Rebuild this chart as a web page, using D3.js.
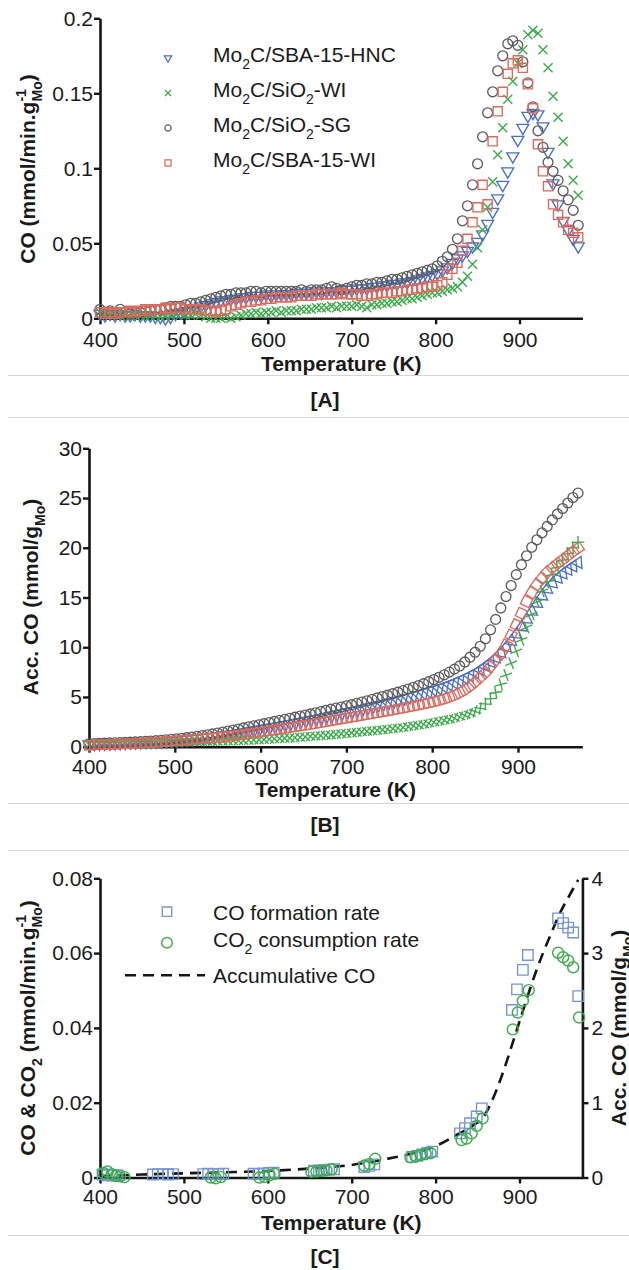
<!DOCTYPE html>
<html><head><meta charset="utf-8">
<script src="https://cdn.jsdelivr.net/npm/d3@7/dist/d3.min.js"></script>
<style>
html,body{margin:0;padding:0;background:#fff;}
svg text{font-family:"Liberation Sans",Arial,Helvetica,sans-serif;}
</style></head>
<body>
<svg id="chart" width="629" height="1270"></svg>
<script>
// ---------- DATA ----------
const temps = [400,406,412,418,424,430,436,442,448,454,
460,466,472,478,484,490,496,502,508,514,
520,526,532,538,544,550,556,562,568,574,
580,586,592,598,604,610,616,622,628,634,
640,646,652,658,664,670,676,682,688,694,
700,706,712,718,724,730,736,742,748,754,
760,766,772,778,784,790,796,802,808,814,
820,826,832,838,844,850,856,862,868,874,
880,886,892,898,904,910,916,922,928,934,
940,946,952,958,964,970];

const seriesNames = [
  [{t:"Mo"},{t:"2",sub:true},{t:"C/SBA-15-HNC"}],
  [{t:"Mo"},{t:"2",sub:true},{t:"C/SiO"},{t:"2",sub:true},{t:"-WI"}],
  [{t:"Mo"},{t:"2",sub:true},{t:"C/SiO"},{t:"2",sub:true},{t:"-SG"}],
  [{t:"Mo"},{t:"2",sub:true},{t:"C/SBA-15-WI"}]
];

// [A] CO formation rate (mmol/min.gMo)
const rateHNC = [0.003,0.002,0.003,0.002,0.003,0.002,0.002,0.003,0.002,0.002,
0.002,0.001,0.001,0.000,0.001,0.003,0.004,0.005,0.006,0.007,
0.008,0.009,0.010,0.011,0.012,0.012,0.013,0.013,0.014,0.014,
0.015,0.015,0.015,0.016,0.015,0.016,0.016,0.016,0.016,0.017,
0.017,0.017,0.017,0.018,0.017,0.018,0.018,0.018,0.019,0.019,
0.019,0.020,0.020,0.020,0.021,0.021,0.022,0.022,0.023,0.023,
0.024,0.024,0.025,0.026,0.027,0.028,0.029,0.030,0.032,0.034,
0.037,0.040,0.042,0.045,0.048,0.051,0.056,0.063,0.071,0.080,
0.089,0.098,0.108,0.119,0.127,0.135,0.137,0.136,0.128,0.111,
0.090,0.076,0.065,0.059,0.053,0.048];
const rateSiO2WI = [0.004,0.003,0.002,0.003,0.002,0.002,0.001,0.002,0.002,0.001,
0.002,0.002,0.001,0.002,0.002,0.003,0.003,0.002,0.002,0.003,
0.002,0.001,0.000,0.000,0.000,0.001,0.000,0.001,0.002,0.003,
0.003,0.004,0.003,0.004,0.004,0.005,0.004,0.005,0.005,0.005,
0.006,0.006,0.006,0.007,0.007,0.007,0.008,0.007,0.008,0.008,
0.008,0.009,0.008,0.007,0.009,0.009,0.010,0.010,0.011,0.011,
0.012,0.013,0.013,0.014,0.015,0.016,0.017,0.017,0.018,0.019,
0.020,0.021,0.024,0.028,0.036,0.047,0.059,0.074,0.091,0.109,
0.127,0.146,0.158,0.170,0.179,0.189,0.192,0.190,0.179,0.167,
0.148,0.134,0.118,0.103,0.092,0.082];
const rateSiO2SG = [0.006,0.004,0.005,0.004,0.006,0.004,0.003,0.004,0.004,0.005,
0.005,0.006,0.006,0.007,0.008,0.008,0.008,0.009,0.010,0.010,
0.011,0.012,0.013,0.014,0.015,0.016,0.016,0.017,0.017,0.017,
0.018,0.018,0.017,0.018,0.018,0.018,0.018,0.018,0.018,0.018,
0.019,0.018,0.019,0.019,0.019,0.020,0.021,0.020,0.019,0.020,
0.021,0.022,0.022,0.023,0.023,0.024,0.024,0.025,0.026,0.026,
0.027,0.028,0.029,0.030,0.031,0.032,0.033,0.035,0.038,0.041,
0.046,0.053,0.065,0.075,0.089,0.103,0.121,0.137,0.151,0.165,
0.175,0.183,0.185,0.182,0.171,0.157,0.141,0.125,0.114,0.104,
0.098,0.092,0.085,0.079,0.072,0.062];
const rateSBAWI = [0.004,0.003,0.004,0.003,0.004,0.004,0.005,0.004,0.005,0.006,
0.005,0.006,0.006,0.007,0.006,0.007,0.007,0.006,0.006,0.006,
0.006,0.005,0.005,0.004,0.005,0.006,0.008,0.009,0.010,0.011,
0.011,0.012,0.012,0.013,0.013,0.014,0.014,0.014,0.014,0.015,
0.015,0.015,0.015,0.016,0.016,0.016,0.016,0.016,0.017,0.016,
0.016,0.016,0.015,0.015,0.016,0.016,0.017,0.017,0.017,0.018,
0.018,0.019,0.019,0.020,0.020,0.021,0.021,0.022,0.024,0.029,
0.033,0.037,0.045,0.053,0.064,0.074,0.089,0.076,0.118,0.138,
0.151,0.163,0.170,0.172,0.167,0.156,0.140,0.116,0.098,0.088,
0.076,0.069,0.064,0.059,0.057,0.054];

// [B] accumulated CO (mmol/gMo)
const accHNC = [0.25,0.27,0.29,0.31,0.33,0.35,0.37,0.39,0.41,0.43,
0.45,0.47,0.49,0.51,0.53,0.56,0.59,0.63,0.67,0.72,
0.77,0.82,0.88,0.94,1.01,1.08,1.15,1.23,1.31,1.39,
1.48,1.57,1.66,1.75,1.84,1.93,2.02,2.12,2.22,2.32,
2.42,2.52,2.62,2.72,2.82,2.93,3.04,3.15,3.26,3.37,
3.48,3.59,3.71,3.83,3.95,4.07,4.19,4.31,4.44,4.57,
4.70,4.83,4.97,5.11,5.25,5.40,5.55,5.71,5.87,6.05,
6.24,6.44,6.66,6.90,7.15,7.43,7.74,8.10,8.50,8.95,
9.45,10.00,10.62,11.30,12.03,12.80,13.60,14.40,15.15,15.85,
16.45,16.95,17.40,17.80,18.15,18.50];
const accSiO2WI = [0.20,0.21,0.22,0.23,0.24,0.25,0.26,0.27,0.28,0.29,
0.30,0.32,0.34,0.36,0.38,0.40,0.42,0.44,0.46,0.48,
0.50,0.52,0.53,0.54,0.55,0.56,0.57,0.58,0.60,0.62,
0.64,0.66,0.68,0.70,0.73,0.76,0.79,0.82,0.85,0.88,
0.91,0.95,0.99,1.03,1.07,1.11,1.15,1.19,1.24,1.29,
1.34,1.39,1.44,1.49,1.54,1.59,1.64,1.69,1.75,1.81,
1.87,1.94,2.01,2.09,2.17,2.26,2.35,2.45,2.55,2.65,
2.75,2.87,3.00,3.15,3.32,3.55,3.86,4.30,4.82,5.45,
6.25,7.20,8.40,9.60,10.75,12.00,13.30,14.55,15.65,16.55,
17.30,18.05,18.75,19.40,20.00,20.55];
const accSiO2SG = [0.30,0.32,0.34,0.36,0.38,0.40,0.42,0.44,0.46,0.48,
0.51,0.54,0.57,0.61,0.65,0.69,0.74,0.79,0.85,0.91,
0.97,1.04,1.12,1.20,1.29,1.38,1.48,1.58,1.68,1.78,
1.89,2.00,2.10,2.21,2.32,2.43,2.54,2.65,2.75,2.86,
2.97,3.08,3.19,3.30,3.41,3.53,3.65,3.77,3.88,3.99,
4.11,4.23,4.36,4.49,4.62,4.76,4.90,5.04,5.18,5.33,
5.48,5.64,5.80,5.97,6.15,6.34,6.54,6.75,6.98,7.23,
7.50,7.80,8.12,8.52,9.00,9.50,10.10,10.85,11.75,12.80,
13.95,15.10,16.20,17.30,18.30,19.20,20.05,20.80,21.50,22.15,
22.80,23.40,23.95,24.50,25.05,25.50];
const accSBAWI = [0.15,0.17,0.19,0.21,0.23,0.25,0.27,0.29,0.31,0.33,
0.36,0.39,0.42,0.45,0.48,0.52,0.56,0.60,0.64,0.68,
0.72,0.76,0.80,0.84,0.88,0.93,0.98,1.04,1.10,1.16,
1.23,1.30,1.37,1.44,1.52,1.60,1.68,1.76,1.84,1.92,
2.00,2.08,2.16,2.24,2.33,2.42,2.51,2.60,2.69,2.78,
2.87,2.96,3.05,3.14,3.23,3.32,3.41,3.50,3.59,3.68,
3.78,3.88,3.98,4.08,4.18,4.29,4.40,4.52,4.65,4.80,
4.98,5.18,5.42,5.72,6.08,6.50,6.98,7.45,8.05,8.75,
9.35,10.20,11.20,12.25,13.40,14.60,15.50,16.30,16.95,17.55,
18.00,18.40,18.80,19.20,19.60,19.95];

// [C]
const cTempsCO = [403,409,415,421,463,469,475,481,487,523,529,535,541,547,583,589,595,601,607,655,661,667,673,679,715,721,727,772,778,784,790,796,829,835,841,849,855,891,897,904,910,946,952,958,964,970];
const cRateCO = [0.0008,0.0006,0.0005,0.0006,0.0008,0.0009,0.0009,0.0008,0.0009,0.0009,0.0010,0.0009,0.0009,0.0010,0.0010,0.0009,0.0011,0.0012,0.0013,0.0018,0.0019,0.0020,0.0021,0.0022,0.0028,0.0031,0.0035,0.0055,0.0058,0.0062,0.0066,0.0069,0.0118,0.0132,0.0145,0.0163,0.0185,0.0448,0.0503,0.0555,0.0595,0.0693,0.0680,0.0668,0.0655,0.0485];
const cTempsCO2 = [404,409,414,419,424,429,532,538,544,590,596,602,608,652,658,664,670,676,715,721,728,770,776,782,788,794,831,837,843,849,856,892,898,904,911,946,952,958,964,971];
const cRateCO2 = [0.0012,0.0016,0.0009,0.0004,0.0003,0.0001,0.0000,-0.0002,0.0001,0.0000,0.0002,0.0006,0.0010,0.0015,0.0016,0.0017,0.0019,0.0022,0.0032,0.0036,0.0050,0.0054,0.0057,0.0060,0.0063,0.0065,0.0100,0.0104,0.0118,0.0138,0.0158,0.0396,0.0441,0.0472,0.0501,0.0601,0.0589,0.0580,0.0562,0.0428];
const cTempsAcc = [400,450,500,550,600,650,700,745,775,800,825,845,857,867,877,885,893,901,909,918,928,938,948,960,970];
const cAcc = [0.02,0.04,0.056,0.07,0.087,0.12,0.168,0.256,0.33,0.42,0.57,0.70,0.81,1.02,1.30,1.56,1.84,2.12,2.40,2.70,3.00,3.27,3.53,3.78,3.98];

const xTicks = [400,500,600,700,800,900];
const yTicksA = [0,0.05,0.1,0.15,0.2];
const yTicksB = [0,5,10,15,20,25,30];
const yTicksC = [0,0.02,0.04,0.06,0.08];
const yTicksC2 = [0,1,2,3,4];

// ---------- DRAWING ----------
const FONT = '"Liberation Sans", Arial, Helvetica, sans-serif';
const INK = '#151515';
const COL = {hnc:'#4a6fc6', wi:'#3aaa48', sg:'#5c5c5c', sba:'#db6a5d', co:'#7594d4', co2:'#3cad4a'};
const svg = d3.select('#chart');

function styleAxis(a){
  a.attr('font-family',FONT).attr('font-size',21);
  a.select('.domain').attr('stroke',INK).attr('stroke-width',2.6);
  a.selectAll('.tick line').attr('stroke',INK).attr('stroke-width',2.4);
  a.selectAll('.tick text').attr('fill','#1a1a1a').attr('font-size',21);
}
function addText(parent, x, y, parts, o={}){
  const t = parent.append('text').attr('x',x).attr('y',y)
    .attr('font-family',FONT).attr('font-size',o.size||21)
    .attr('font-weight',o.weight||'normal').attr('fill','#1a1a1a')
    .attr('text-anchor',o.anchor||'start');
  if (o.transform) t.attr('transform',o.transform);
  let shift = 0;
  parts.forEach(p=>{
    const s = t.append('tspan').text(p.t);
    let dy = 0;
    if (p.sub){ s.attr('font-size',14); dy = 7 - shift; shift = 7; }
    else if (p.sup){ s.attr('font-size',14); dy = -9 - shift; shift = -9; }
    else { dy = -shift; shift = 0; }
    if (dy) s.attr('dy',dy);
    if (p.dx) s.attr('dx',p.dx);
  });
  return t;
}

const SH = {
  tri: d3.symbol(d3.symbolTriangle, 62)(),
  sq: d3.symbol(d3.symbolSquare, 84)(),
  circ: d3.symbol(d3.symbolCircle, 76)(),
  cross: 'M-4.5,-4.5L4.5,4.5M-4.5,4.5L4.5,-4.5'
};
const markerDefs = [
  {shape:'tri', rot:180, color:COL.hnc},
  {shape:'cross', rot:0, color:COL.wi},
  {shape:'circ', rot:0, color:COL.sg},
  {shape:'sq', rot:0, color:COL.sba}
];

function drawPoints(g, xs, ys, tArr, vArr, d, color, rotFn, sw){
  const pts = tArr.map((t,i)=>({t, v:vArr[i], i}));
  g.append('g').selectAll('path').data(pts).join('path')
    .attr('d', d)
    .attr('transform', p=>`translate(${xs(p.t).toFixed(2)},${ys(p.v).toFixed(2)}) rotate(${rotFn(p).toFixed(1)})`)
    .attr('fill','none').attr('stroke',color).attr('stroke-width',sw||1.35);
}

// ===== Panel A =====
const xA = d3.scaleLinear().domain([400,975]).range([100, 100+575*0.839]);
const yA = d3.scaleLinear().domain([0,0.2]).range([318.3,18.3]);
{
  const g = svg.append('g');
  const ax = g.append('g').attr('transform',`translate(0,${yA(0)})`)
    .call(d3.axisBottom(xA).tickValues(xTicks).tickSize(6).tickSizeOuter(0).tickPadding(8).tickFormat(d3.format('d')));
  styleAxis(ax);
  const ay = g.append('g').attr('transform',`translate(${xA(400)},0)`)
    .call(d3.axisLeft(yA).tickValues(yTicksA).tickSize(6).tickSizeOuter(0).tickPadding(1).tickFormat(d=>String(d)));
  styleAxis(ay);
  const rates = [rateHNC, rateSiO2WI, rateSiO2SG, rateSBAWI];
  rates.forEach((r,k)=>{
    const m = markerDefs[k];
    drawPoints(g, xA, yA, temps, r, SH[m.shape], m.color, ()=>m.rot);
  });
  addText(g, 0, 0, [{t:'Temperature (K)'}], {weight:'bold', anchor:'middle', transform:`translate(${(xA(400)+xA(975))/2},371)`});
  addText(g, 0, 0, [{t:'CO (mmol/min.g'},{t:'-1',sup:true},{t:'Mo',sub:true,dx:-12.4},{t:')'}],
    {weight:'bold', anchor:'middle', transform:'translate(35,169) rotate(-90)'});
  // legend
  const lsh = {tri:d3.symbol(d3.symbolTriangle,24)(), sq:d3.symbol(d3.symbolSquare,38)(), circ:d3.symbol(d3.symbolCircle,30)(), cross:'M-3,-3L3,3M-3,3L3,-3'};
  seriesNames.forEach((nm,k)=>{
    const m = markerDefs[k];
    const cy = 58 + k*35;
    g.append('path').attr('d', lsh[m.shape]).attr('transform',`translate(168,${cy}) rotate(${m.rot})`)
      .attr('fill','none').attr('stroke',m.color).attr('stroke-width',1.2);
    addText(g, 213, 62 + k*35, nm);
  });
}

// ===== Panel B =====
const xB = d3.scaleLinear().domain([400,975]).range([89, 89+575*0.858]);
const yB = d3.scaleLinear().domain([0,30]).range([746.7,448.3]);
{
  const g = svg.append('g');
  const ax = g.append('g').attr('transform',`translate(0,${yB(0)})`)
    .call(d3.axisBottom(xB).tickValues(xTicks).tickSize(6).tickSizeOuter(0).tickPadding(6).tickFormat(d3.format('d')));
  styleAxis(ax);
  const ay = g.append('g').attr('transform',`translate(${xB(400)},0)`)
    .call(d3.axisLeft(yB).tickValues(yTicksB).tickSize(6).tickSizeOuter(0).tickPadding(1).tickFormat(d3.format('d')));
  styleAxis(ay);
  const accs = [accHNC, accSiO2WI, accSiO2SG, accSBAWI];
  accs.forEach((a,k)=>{
    const m = markerDefs[k];
    const slope = p=>{
      const i0 = Math.max(0,p.i-1), i1 = Math.min(temps.length-1,p.i+1);
      const dx = xB(temps[i1])-xB(temps[i0]), dy = yB(a[i1])-yB(a[i0]);
      return Math.atan2(dy,dx)*180/Math.PI;
    };
    drawPoints(g, xB, yB, temps, a, SH[m.shape], m.color, p=> m.shape==='circ'?0: m.rot + slope(p));
  });
  addText(g, 0, 0, [{t:'Temperature (K)'}], {weight:'bold', anchor:'middle', transform:`translate(${(xB(400)+xB(975))/2},797)`});
  addText(g, 0, 0, [{t:'Acc. CO (mmol/g'},{t:'Mo',sub:true},{t:')'}],
    {weight:'bold', anchor:'middle', transform:'translate(38,597) rotate(-90)'});
}

// ===== Panel C =====
const xC = d3.scaleLinear().domain([400,975]).range([100, 100+575*0.839]);
const yC = d3.scaleLinear().domain([0,0.08]).range([1177.5,878.3]);
const yC2 = d3.scaleLinear().domain([0,4]).range([1177.5,878.3]);
{
  const g = svg.append('g');
  const ax = g.append('g').attr('transform',`translate(0,${yC(0)})`)
    .call(d3.axisBottom(xC).tickValues(xTicks).tickSize(6).tickSizeOuter(0).tickPadding(6).tickFormat(d3.format('d')));
  styleAxis(ax);
  const ay = g.append('g').attr('transform',`translate(${xC(400)},0)`)
    .call(d3.axisLeft(yC).tickValues(yTicksC).tickSize(6).tickSizeOuter(0).tickPadding(1).tickFormat(d=>String(d)));
  styleAxis(ay);
  const ay2 = g.append('g').attr('transform',`translate(${xC(975)},0)`)
    .call(d3.axisRight(yC2).tickValues(yTicksC2).tickSize(6).tickSizeOuter(0).tickPadding(3).tickFormat(d3.format('d')));
  styleAxis(ay2);
  const line = d3.line().x((d,i)=>xC(cTempsAcc[i])).y(d=>yC2(d)).curve(d3.curveMonotoneX);
  g.append('path').attr('d', line(cAcc)).attr('fill','none').attr('stroke',INK)
    .attr('stroke-width',2.6).attr('stroke-dasharray','11,7');
  drawPoints(g, xC, yC, cTempsCO, cRateCO, d3.symbol(d3.symbolSquare,110)(), COL.co, ()=>0, 1.35);
  drawPoints(g, xC, yC, cTempsCO2, cRateCO2, d3.symbol(d3.symbolCircle,95)(), COL.co2, ()=>0, 1.45);
  addText(g, 0, 0, [{t:'Temperature (K)'}], {weight:'bold', anchor:'middle', transform:`translate(${(xC(400)+xC(975))/2},1230)`});
  addText(g, 0, 0, [{t:'CO & CO'},{t:'2',sub:true},{t:' (mmol/min.g'},{t:'-1',sup:true},{t:'Mo',sub:true,dx:-12.4},{t:')'}],
    {weight:'bold', anchor:'middle', transform:'translate(35,1028) rotate(-90)'});
  addText(g, 0, 0, [{t:'Acc. CO (mmol/g'},{t:'Mo',sub:true},{t:')'}],
    {weight:'bold', anchor:'middle', transform:'translate(626,1028) rotate(-90)'});
  // legend
  g.append('path').attr('d', d3.symbol(d3.symbolSquare,90)()).attr('transform','translate(167,911.7)')
    .attr('fill','none').attr('stroke',COL.co).attr('stroke-width',1.35);
  g.append('path').attr('d', d3.symbol(d3.symbolCircle,88)()).attr('transform','translate(167,942.7)')
    .attr('fill','none').attr('stroke',COL.co2).attr('stroke-width',1.45);
  g.append('line').attr('x1',125).attr('x2',205).attr('y1',975.3).attr('y2',975.3)
    .attr('stroke',INK).attr('stroke-width',2.6).attr('stroke-dasharray','11,7');
  addText(g, 213, 920, [{t:'CO formation rate'}]);
  addText(g, 213, 947, [{t:'CO'},{t:'2',sub:true},{t:' consumption rate'}]);
  addText(g, 213, 983, [{t:'Accumulative CO'}]);
}

// ===== Captions & separators =====
[375, 417, 803, 850, 1235].forEach(y=>{
  svg.append('line').attr('x1',8).attr('x2',629).attr('y1',y+0.5).attr('y2',y+0.5)
    .attr('stroke','#d4d4d4').attr('stroke-width',1);
});
addText(svg, 325, 407, [{t:'[A]'}], {weight:'bold', anchor:'middle'});
addText(svg, 325, 832, [{t:'[B]'}], {weight:'bold', anchor:'middle'});
addText(svg, 325, 1264, [{t:'[C]'}], {weight:'bold', anchor:'middle'});
</script>
</body></html>
